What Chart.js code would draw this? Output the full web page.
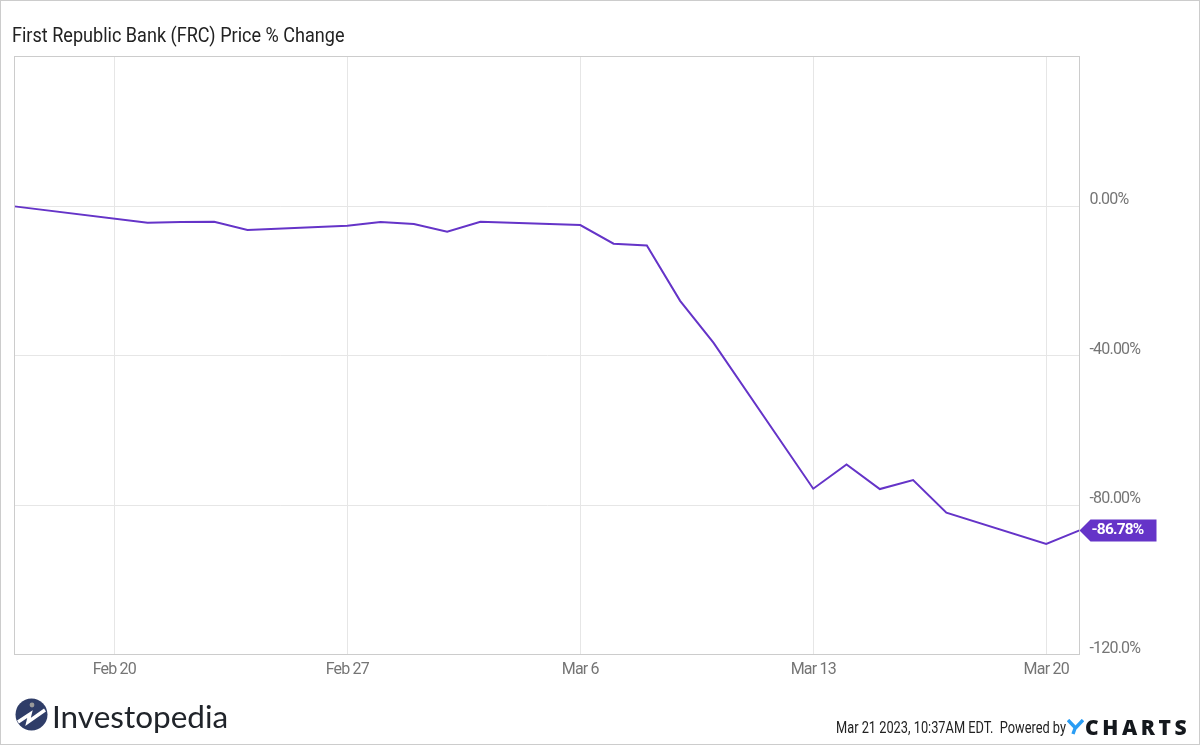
<!DOCTYPE html>
<html>
<head>
<meta charset="utf-8">
<title>First Republic Bank (FRC) Price % Change</title>
<script src="https://cdn.jsdelivr.net/npm/chart.js@4"></script>
<style>
html, body { margin: 0; padding: 0; background: #fff; }
#wrap { position: relative; width: 1200px; height: 745px; overflow: hidden; font-family: Roboto, sans-serif; }
#wrap canvas { position: absolute; left: 0; top: 0; }
#frame { position: absolute; left: 0; top: 0; width: 1198px; height: 743px; border: 1px solid #ccc; }
.txt { position: absolute; white-space: nowrap; transform-origin: left center; }
#title { left: 12px; top: 22px; font-size: 21px; line-height: 26px; color: #222; transform: scaleX(0.86); }
#stamp { left: 836px; top: 719px; font-size: 16px; line-height: 18px; color: #222; transform: scaleX(0.8); }
#brand { left: 52px; top: 695px; font-family: Lato, sans-serif; font-size: 31.5px; line-height: 42px; color: #20242a; }
#ycharts { left: 1085px; top: 715px; font-family: "Open Sans", sans-serif; font-weight: 800; font-size: 21px; line-height: 24px; letter-spacing: 3.6px; color: #14181d; }
#logo { position: absolute; left: 15px; top: 698px; }
#ymark { position: absolute; left: 1067px; top: 719px; }
</style>
</head>
<body>
<div id="wrap">
  <canvas id="frcChart" width="1200" height="745"></canvas>
  <div id="frame"></div>
  <div class="txt" id="title">First Republic Bank (FRC) Price % Change</div>
  <svg id="logo" width="33" height="33" viewBox="0 0 33 33">
    <circle cx="16.5" cy="16.5" r="16" fill="#2f3d68"/>
    <path d="M3 24 L15 16 L13 24 L30 12" fill="none" stroke="#fff" stroke-width="3.4"/>
    <circle cx="17" cy="7" r="2.4" fill="#9a9a9a"/>
  </svg>
  <div class="txt" id="brand">Investopedia</div>
  <div class="txt" id="stamp">Mar 21 2023, 10:37AM EDT.&nbsp; Powered by</div>
  <svg id="ymark" width="17" height="16" viewBox="0 0 17 16">
    <path d="M1 1 L8.5 9 L16 1 M8.5 8 L6 15" fill="none" stroke="#2a9df4" stroke-width="3.4"/>
  </svg>
  <div class="txt" id="ycharts">CHARTS</div>
</div>
<script>
// days counted from Feb 17 2023, only the days the market was open
const tradingDays = [0, 4, 5, 6, 7, 10, 11, 12, 13, 14, 17, 18, 19, 20, 21, 24, 25, 26, 27, 28, 31, 32];
const priceChange = [0, -4.4, -4.2, -4.1, -6.3, -5.2, -4.2, -4.7, -6.8, -4.1, -5.0, -10.0, -10.5, -25.3, -36.5, -75.6, -69.1, -75.7, -73.3, -82.0, -90.4, -86.78];

const xTickDays = [3, 10, 17, 24, 31];
const xTickLabels = ['Feb 20', 'Feb 27', 'Mar 6', 'Mar 13', 'Mar 20'];
const yTickValues = [0, -40, -80, -120];
const yTickLabels = ['0.00%', '-40.00%', '-80.00%', '-120.0%'];
const lastLabel = '-86.78%';

const lineColor = '#6534c8';

// box around the plot and the little tag at the end of the line
const plotExtras = {
    id: 'plotExtras',
    beforeDraw(chart) {
        chart.ctx.letterSpacing = '-0.8px';
    },
    afterDatasetsDraw(chart) {
        const { ctx, chartArea, scales } = chart;
        ctx.save();
        ctx.strokeStyle = '#cccccc';
        ctx.lineWidth = 1;
        ctx.strokeRect(chartArea.left, chartArea.top - 0.5, chartArea.right - chartArea.left, chartArea.bottom - chartArea.top + 0.5);

        const tipX = scales.x.getPixelForValue(tradingDays[tradingDays.length - 1]);
        const tipY = scales.y.getPixelForValue(priceChange[priceChange.length - 1]);
        ctx.fillStyle = lineColor;
        ctx.beginPath();
        ctx.moveTo(tipX, tipY);
        ctx.lineTo(tipX + 11, tipY - 11);
        ctx.lineTo(tipX + 77, tipY - 11);
        ctx.lineTo(tipX + 77, tipY + 11);
        ctx.lineTo(tipX + 11, tipY + 11);
        ctx.closePath();
        ctx.fill();
        ctx.fillStyle = '#ffffff';
        ctx.font = '700 15.5px Roboto';
        ctx.textBaseline = 'middle';
        ctx.fillText(lastLabel, tipX + 12, tipY);
        ctx.restore();
    }
};

const ctx = document.getElementById('frcChart').getContext('2d');
const frcChart = new Chart(ctx, {
    type: 'line',
    data: {
        datasets: [{
            data: tradingDays.map((d, i) => ({ x: d, y: priceChange[i] })),
            borderColor: lineColor,
            borderWidth: 2,
            pointRadius: 0,
            tension: 0,
            fill: false
        }]
    },
    plugins: [plotExtras],
    options: {
        responsive: false,
        animation: false,
        devicePixelRatio: 1,
        layout: { padding: { left: 14.5, top: 57, right: 0, bottom: 0 } },
        plugins: { legend: { display: false }, tooltip: { enabled: false } },
        scales: {
            x: {
                type: 'linear',
                min: 0,
                max: 32,
                afterBuildTicks: axis => { axis.ticks = xTickDays.map(v => ({ value: v })); },
                afterFit: axis => { axis.height = 90.5; },
                grid: { color: '#e6e6e6', drawTicks: false },
                border: { display: false },
                ticks: {
                    autoSkip: false,
                    maxRotation: 0,
                    padding: 6,
                    color: '#757575',
                    font: { family: 'Roboto', size: 16 },
                    callback: v => xTickLabels[xTickDays.indexOf(v)]
                }
            },
            y: {
                position: 'right',
                min: -120,
                max: 40,
                afterBuildTicks: axis => { axis.ticks = yTickValues.map(v => ({ value: v })); },
                afterFit: axis => { axis.width = 120.5; },
                grid: { color: '#e6e6e6', drawTicks: false },
                border: { display: false },
                ticks: {
                    autoSkip: false,
                    padding: 10,
                    labelOffset: -6,
                    color: '#757575',
                    font: { family: 'Roboto', size: 16 },
                    callback: v => yTickLabels[yTickValues.indexOf(v)]
                }
            }
        }
    }
});
</script>
</body>
</html>
